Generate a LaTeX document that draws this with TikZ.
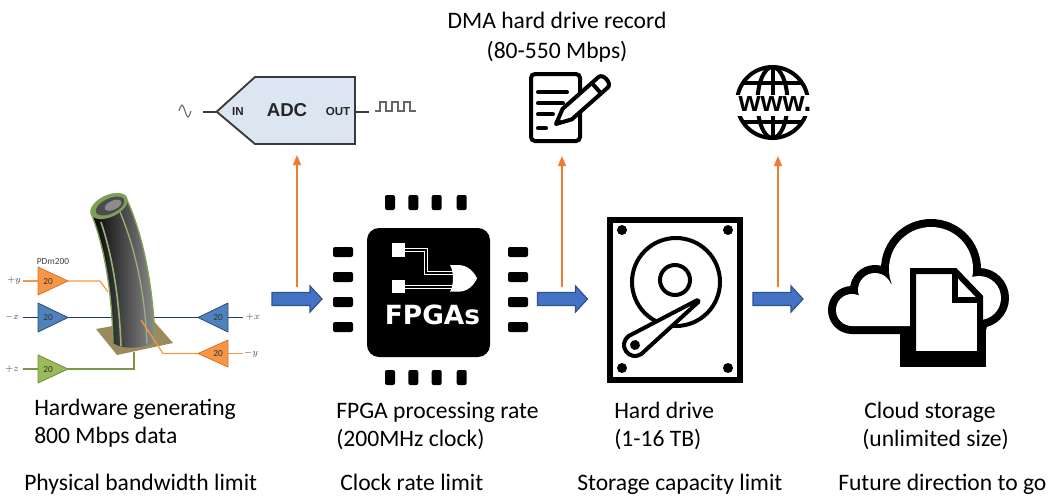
\documentclass[tikz,border=0pt]{standalone}
\usepackage{fontspec}
\setmainfont{Carlito}
\newfontfamily\arialfont{Liberation Sans}
\newfontfamily\chipfont{DejaVu Sans}
\usetikzlibrary{arrows.meta}

\definecolor{flowblue}{HTML}{4472C4}
\definecolor{flowblueedge}{HTML}{2F528F}
\definecolor{linkorange}{HTML}{ED7D31}
\definecolor{adcfill}{HTML}{DCE6F2}
\definecolor{adcedge}{HTML}{3A3A3A}
\definecolor{ampor}{HTML}{F79646}
\definecolor{amporedge}{HTML}{D9732A}
\definecolor{ampbl}{HTML}{4F81BD}
\definecolor{ampbledge}{HTML}{2C4D75}
\definecolor{ampgr}{HTML}{9BBB59}
\definecolor{ampgredge}{HTML}{6E8A3A}
\definecolor{wirebl}{HTML}{1F3A6E}
\definecolor{plate}{HTML}{9A8A5E}
\definecolor{tubegreen}{HTML}{7E9E5A}

\begin{document}
\begin{tikzpicture}[x=0.75pt, y=-0.75pt,
  flowarrow/.pic={
    \filldraw[draw=flowblueedge, fill=flowblue, line width=0.9pt, line join=miter]
      (-25,-6.5) -- (13,-6.5) -- (13,-13) -- (25,0) -- (13,13) -- (13,6.5) -- (-25,6.5) -- cycle;
  },
  uplink/.style={draw=linkorange, line width=1.1pt, -{Triangle[length=7.5pt,width=6pt]}},
  caption/.style={font=\fontsize{17.7}{21}\selectfont, anchor=base west, inner sep=0pt},
  headcap/.style={font=\fontsize{17.7}{21}\selectfont, anchor=base, inner sep=0pt},
  ampnum/.style={font=\fontsize{7}{8}\selectfont, text=black!80, inner sep=0pt},
  axislab/.style={font=\fontsize{7}{8}\selectfont, text=black!70, inner sep=0pt},
  amptri/.style={line width=0.6pt, line join=round},
  wire/.style={line width=0.9pt},
  iconline/.style={line width=3pt},
]
\useasboundingbox (0,0) rectangle (1051,497);

% ---------------- sensor head with amplifiers ----------------
\node[axislab, text=black!75] (pdm) at (53,261) {PDm200};
% wires running behind the tube
\draw[wire, ampor] (23,281) -- (38,281);
\draw[wire, ampor] (68,281) -- (100,281) -- (108,292);
\draw[wire, wirebl] (23,317.5) -- (38,317.5);
\draw[wire, wirebl] (68,317.5) -- (113,317.5);
\draw[wire, wirebl] (150,317.5) -- (198,317.5);
\draw[wire, wirebl] (228,317.5) -- (243,317.5);
\draw[wire, ampor] (228,353.5) -- (243,353.5);
\draw[wire, ampgr!80!black] (23,369) -- (38,369);
% base plate
\fill[plate] (96,329) -- (152,319) -- (173,343) -- (117,355) -- cycle;
\draw[wire, ampgr!80!black] (68,369) -- (134,369) -- (134,352);
% bent tube
\shade[left color=black, right color=black!45]
  (91,213) .. controls (104,245) and (112,290) .. (113,343)
  .. controls (122,350) and (146,349) .. (155,341)
  .. controls (153,285) and (143,235) .. (127,200) -- cycle;
\draw[tubegreen, line width=1pt] (91,213) .. controls (104,245) and (112,290) .. (113,343);
\draw[tubegreen, line width=1pt] (155,341) .. controls (153,285) and (143,235) .. (127,200);
\draw[tubegreen!80, line width=1.2pt] (101,222) .. controls (112,255) and (119,295) .. (121,346);
\draw[tubegreen!80, line width=1pt] (120,212) .. controls (134,245) and (145,290) .. (147,344);
\fill[tubegreen, rotate around={25:(109,206)}] (109,206) ellipse[x radius=20, y radius=11];
\fill[black!70, rotate around={25:(109,206)}] (110,206.5) ellipse[x radius=15.5, y radius=7.5];
\fill[black!45, rotate around={25:(109,206)}] (113,207) ellipse[x radius=9, y radius=4.5];
% wire crossing in front of the tube
\draw[wire, ampor] (198,353.5) -- (163,353.5) -- (141,320);
% amplifiers
\filldraw[amptri, fill=ampor, draw=amporedge] (38,267) -- (68,281) -- (38,295) -- cycle;
\filldraw[amptri, fill=ampbl, draw=ampbledge] (38,303) -- (68,317.5) -- (38,332) -- cycle;
\filldraw[amptri, fill=ampgr, draw=ampgredge] (38,355) -- (68,369) -- (38,383) -- cycle;
\filldraw[amptri, fill=ampbl, draw=ampbledge] (228,303) -- (198,317.5) -- (228,332) -- cycle;
\filldraw[amptri, fill=ampor, draw=amporedge] (228,340) -- (198,353.5) -- (228,367) -- cycle;
\node[ampnum] (gy) at (48,281) {20};
\node[ampnum] (gmx) at (48,317.5) {20};
\node[ampnum] (gz) at (48,369) {20};
\node[ampnum] (gx) at (218,317.5) {20};
\node[ampnum] (gmy) at (218,353.5) {20};
\node[axislab] (ly) at (14,281) {$+y$};
\node[axislab] (lmx) at (12,317.5) {$-x$};
\node[axislab] (lz) at (12,369) {$+z$};
\node[axislab] (lx) at (253,317.5) {$+x$};
\node[axislab] (lmy) at (251,353.5) {$-y$};

% ---------------- ADC ----------------
\filldraw[fill=adcfill, draw=adcedge, line width=1.4pt, line join=miter]
  (216.7,111.7) -- (255,77) -- (355,77) -- (355,144) -- (255,144) -- cycle;
\draw[adcedge, line width=1.4pt] (203,111.7) -- (216.7,111.7);
\draw[adcedge, line width=1.4pt] (355,111.7) -- (369,111.7);
\draw[black!60, line width=0.8pt] (179,111) sin (182,105) cos (185,111) sin (188,117) cos (191,111);
\draw[black!60, line width=0.8pt] (375,111) -- (380,111) -- (380,102) -- (386,102) -- (386,111)
  -- (392,111) -- (392,102) -- (398,102) -- (398,111) -- (404,111) -- (404,102) -- (410,102)
  -- (410,111) -- (416,111);
\node[font=\arialfont\bfseries\fontsize{8.7}{10}\selectfont, text=black!85, inner sep=0pt] (adcin) at (238,112) {IN};
\node[font=\arialfont\bfseries\fontsize{14}{16}\selectfont, text=black!85, inner sep=0pt] (adcname) at (287,110) {ADC};
\node[font=\arialfont\bfseries\fontsize{8.7}{10}\selectfont, text=black!85, inner sep=0pt] (adcout) at (338,112) {OUT};

% ---------------- FPGA chip ----------------
\fill[rounded corners=9pt] (367,228) rectangle (490,357);
\foreach \px in {390,413.3,436.7,461.7} {
  \fill[rounded corners=1.5pt] (\px-5,195) rectangle (\px+5,210);
  \fill[rounded corners=1.5pt] (\px-5,370) rectangle (\px+5,385);
}
\foreach \py in {252,277,302,327} {
  \fill[rounded corners=1.5pt] (333,\py-5) rectangle (353,\py+5);
  \fill[rounded corners=1.5pt] (508,\py-5) rectangle (528,\py+5);
}
\fill[white] (391.7,243) rectangle (405,256.7);
\fill[white] (391.7,280) rectangle (405,293.3);
\draw[white, double=black, line width=0.9pt, double distance=1.3pt]
  (405,249.8) -- (426,249.8) -- (426,273) -- (453,273);
\draw[white, double=black, line width=0.9pt, double distance=1.3pt]
  (405,286.7) -- (453,286.7);
\fill[white] (450,265) -- (458,265) .. controls (468,265) and (474,272) .. (477,278.3)
  .. controls (474,285) and (468,291.7) .. (458,291.7) -- (450,291.7)
  .. controls (454,285) and (454,271.7) .. (450,265) -- cycle;
\node[font=\chipfont\bfseries\fontsize{19.8}{22}\selectfont, text=white, inner sep=0pt] (chipname) at (432.5,315) {FPGAs};

% ---------------- hard drive ----------------
\draw[line width=4.5pt] (610,220) rectangle (740,380);
\foreach \sx/\sy in {622/230, 728/230, 622/368, 728/368} {
  \fill (\sx,\sy) circle[radius=5];
}
\draw[iconline] (676,282) circle[radius=44];
\draw[iconline] (675,280) circle[radius=15];
\begin{scope}[shift={(635,345)}, rotate=35]
  \filldraw[fill=white, iconline, line join=round]
    (77,1) -- (77,-1) -- (0,-11) arc[start angle=-90, end angle=-270, radius=11] -- cycle;
  \fill (0,0) circle[radius=5];
\end{scope}

% ---------------- record icon ----------------
\draw[iconline, rounded corners=3pt] (531,74) rectangle (580,141);
\draw[iconline, line cap=round] (538,92.3) -- (567,92.3);
\draw[iconline, line cap=round] (538,103.3) -- (563,103.3);
\draw[iconline, line cap=round] (538,114.3) -- (553,114.3);
\draw[iconline, line cap=round] (538,128.3) -- (546,128.3);
\begin{scope}[shift={(556,124)}, rotate=41.5]
  \filldraw[fill=white, iconline, line join=round]
    (0,0) -- (15,-7) -- (63,-7) .. controls (69,-7) and (69,7) .. (63,7) -- (15,7) -- cycle;
  \draw[iconline] (54,-7) -- (54,7);
  \fill (-1,0) -- (6,-3.5) -- (6,3.5) -- cycle;
\end{scope}

% ---------------- globe ----------------
\draw[iconline] (772.5,102.5) circle[radius=35.5];
\draw[iconline] (772.5,102.5) ellipse[x radius=15, y radius=35.5];
\draw[iconline] (772.5,67) -- (772.5,138);
\draw[iconline] (743,83.3) -- (802,83.3);
\draw[iconline] (743,122.3) -- (802,122.3);
\fill[white] (733,95) rectangle (816,116);
\node[font=\arialfont\bfseries\fontsize{21.2}{24}\selectfont, inner sep=0pt] (web) at (775,104) {www.};

% ---------------- cloud with document ----------------
\draw[line width=12pt, line join=round]
  (852,310) circle[radius=16] (875,290) circle[radius=17] (931,269) circle[radius=42]
  (979,298) circle[radius=22]
  (852,310) -- (875,290) -- (931,269) -- (979,298) -- (979,326) -- (852,326) -- cycle;
\fill[white]
  (852,310) circle[radius=16] (875,290) circle[radius=17] (931,269) circle[radius=42]
  (979,298) circle[radius=22]
  (852,310) -- (875,290) -- (931,269) -- (979,298) -- (979,326) -- (852,326) -- cycle;
\fill (900,327) rectangle (986,367);
\filldraw[fill=white, line width=4.5pt, line join=miter]
  (913,271) -- (955,271) -- (980,297) -- (980,354) -- (913,354) -- cycle;
\draw[line width=4pt] (955,271) -- (955,300) -- (980,300);

% ---------------- flow arrows ----------------
\pic at (297,299) {flowarrow};
\pic at (562.5,299) {flowarrow};
\pic at (778,299) {flowarrow};
\coordinate (tap1) at (297,287);
\coordinate (tap2) at (562,287);
\coordinate (tap3) at (778,287);
\coordinate (adcfeed) at (297,155);
\coordinate (recfeed) at (562,156);
\coordinate (webfeed) at (778,156);
\draw[uplink] (tap1) -- (adcfeed);
\draw[uplink] (tap2) -- (recfeed);
\draw[uplink] (tap3) -- (webfeed);

% ---------------- captions ----------------
\node[headcap] (dma1) at (557,28) {DMA hard drive record};
\node[headcap] (dma2) at (557,58) {(80-550 Mbps)};
\node[caption] (hw1) at (34,415) {Hardware generating};
\node[caption] (hw2) at (34,443) {800 Mbps data};
\node[caption] (fp1) at (336,418) {FPGA processing rate};
\node[caption] (fp2) at (336,446) {(200MHz clock)};
\node[caption] (hd1) at (614,418) {Hard drive};
\node[caption] (hd2) at (614,446) {(1-16 TB)};
\node[caption] (cl1) at (864,418) {Cloud storage};
\node[caption] (cl2) at (862,446) {(unlimited size)};
\node[caption] (lim1) at (24,490) {Physical bandwidth limit};
\node[caption] (lim2) at (340,490) {Clock rate limit};
\node[caption] (lim3) at (577,490) {Storage capacity limit};
\node[caption] (lim4) at (838,490) {Future direction to go};
\end{tikzpicture}
\end{document}
